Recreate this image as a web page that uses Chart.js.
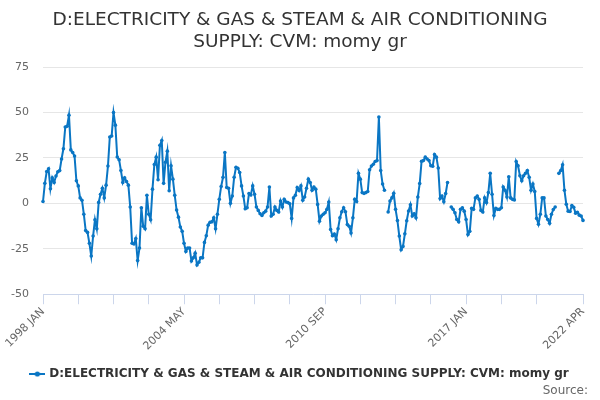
<!DOCTYPE html>
<html>
<head>
<meta charset="utf-8">
<script src="https://cdn.jsdelivr.net/npm/chart.js@4.4.1/dist/chart.umd.min.js"></script>
<style>
  html, body { margin: 0; padding: 0; background: #fff; }
  #wrap { width: 600px; height: 400px; }
</style>
</head>
<body>
<div id="wrap"><canvas id="c" width="600" height="400"></canvas></div>
<script>
const titleLines = ["D:ELECTRICITY & GAS & STEAM & AIR CONDITIONING", "SUPPLY: CVM: momy gr"];
const seriesName = "D:ELECTRICITY & GAS & STEAM & AIR CONDITIONING SUPPLY: CVM: momy gr";
const sourceText = "Source:";
const startYear = 1998;
const monthNames = ["JAN","FEB","MAR","APR","MAY","JUN","JUL","AUG","SEP","OCT","NOV","DEC"];
const yTicks = [-50, -25, 0, 25, 50, 75];

const values = [
  1, 11, 17.5, 19, 8, 14, 11.5, 15, 17.4, 18,
  24.4, 30, 42, 42.4, 48.5, 29.4, 28, 26, 12.4, 9.6,
  3, 1.7, -6, -15, -16, -22, -29, -18, -9, -14,
  0.5, 5, 8.3, 3, 10, 20.5, 36.5, 37, 50, 43,
  25.5, 24, 18, 11.5, 14, 12, 10, -2, -22, -22.4,
  -19.4, -31.5, -24.6, -2.4, -12.6, -14, 4.4, -6, -9, 7.8,
  21.3, 25.4, 13, 31.9, 34.6, 11, 22.6, 28.7, 6.9, 20.7,
  13.3, 4.4, -3.7, -7.6, -13, -15.4, -22, -26.5, -24.6, -24.6,
  -31.7, -30, -27.4, -33.9, -32.4, -30, -30, -21.5, -17.8, -12,
  -10.4, -10.2, -8, -14, -6, 2.2, 9.3, 14.3, 28, 8.7,
  8.3, 0, 4, 14.3, 19.8, 19.3, 17, 9.6, 4, -3,
  -2.4, 5.4, 4.6, 9.6, 5, -2, -3.9, -5.7, -6.7, -5.2,
  -4.3, -2, 9, -7, -6, -2, -3.9, -4.8, 1.3, -2,
  2.2, 0.7, 0.4, -0.2, -8.3, 3, 4.4, 8.7, 7, 9.6,
  1.7, 3.5, 8.3, 13.3, 11.5, 7.2, 9, 7.8, -0.6, -9.8,
  -7, -6, -5.2, -3.3, 0.7, -14.4, -17.8, -16.9, -20, -14,
  -8, -4.6, -2.4, -4.6, -11.7, -12.6, -16.3, -8, 2.2, 1,
  16.5, 13.3, 5.9, 5.5, 5.9, 6.5, 18.5, 20.5, 21.5, 23,
  23.5, 47.5, 18, 10.6, 7.2, null, -4.8, 1.3, 3, 5.5,
  -3.3, -9.5, -18, -25.5, -23.7, -16.8, -9.6, -4.2, -0.8, -7,
  -5.7, -8, 3.5, 10.9, 23.1, 23.5, 25.4, 24.4, 23.5, 20.7,
  20.4, 26.8, 25.4, 19.4, 2.6, 4, 0.9, 5.4, 11.5, null,
  -2, -3.3, -5.2, -8.9, -10.2, -3.3, -2.5, -4.3, -8.9, -17.2,
  -15.4, -2.8, -3.3, 3, 4, 2.2, -3.9, -4.8, 3, 0.4,
  5.9, 16.5, 5, -6.7, -2.8, -3.3, -3.3, -2.4, 9, 7.2,
  3.5, 14.6, 3, 2.2, 1.9, 23, 20.7, 15.2, 12.4, 15.2,
  16.5, 18, 14.3, 7.2, 10.6, 6.5, -8.3, -11.5, -6, 3,
  3, -7, -8.9, -11, -6, -3.4, -2, null, 16.5, 18,
  21.2, 7.2, -0.5, -4.3, -4.5, -1.2, -2.2, -5.4, -5, -6.5,
  -7, -9.4
];

const categories = values.map((v, i) => (startYear + Math.floor(i / 12)) + " " + monthNames[i % 12]);
const labelStep = 76;
const tickStep = 19;
const lastIdx = categories.length - 1;

const COLOR = "#0a76c4";
Chart.defaults.font.family = "'DejaVu Sans', sans-serif";

function legendIcon() {
  const c = document.createElement('canvas');
  c.width = 16; c.height = 10;
  const g = c.getContext('2d');
  g.strokeStyle = COLOR; g.lineWidth = 2;
  g.beginPath(); g.moveTo(0, 5); g.lineTo(16, 5); g.stroke();
  g.fillStyle = COLOR;
  g.beginPath(); g.arc(8, 5, 2.6, 0, Math.PI * 2); g.fill();
  return c;
}
const icon = legendIcon();

const sourcePlugin = {
  id: 'sourceText',
  afterDraw(chart) {
    const ctx = chart.ctx;
    ctx.save();
    ctx.font = "12px 'DejaVu Sans', sans-serif";
    ctx.fillStyle = '#666';
    ctx.textAlign = 'right';
    ctx.textBaseline = 'middle';
    ctx.fillText(sourceText, 588, 391);
    ctx.restore();
  }
};

new Chart(document.getElementById('c'), {
  type: 'line',
  data: {
    labels: categories,
    datasets: [{
      label: seriesName,
      data: values,
      borderColor: COLOR,
      backgroundColor: COLOR,
      borderWidth: 2,
      pointRadius: 1.8,
      pointBorderWidth: 0,
      pointBackgroundColor: COLOR,
      tension: 0,
      spanGaps: false,
      yAxisID: 'y'
    }]
  },
  options: {
    responsive: false,
    animation: false,
    layout: { padding: { left: 0, right: 0, top: 0, bottom: 10 } },
    plugins: {
      title: {
        display: true,
        text: titleLines,
        color: '#333',
        font: { size: 18.5, weight: 'normal' },
        lineHeight: 1.2,
        padding: { top: 9, bottom: 13.6 }
      },
      legend: {
        display: true,
        position: 'bottom',
        labels: {
          usePointStyle: true,
          color: '#333',
          font: { size: 12, weight: 'bold' },
          padding: 8,
          generateLabels: () => [{
            text: seriesName,
            pointStyle: icon,
            fillStyle: COLOR,
            strokeStyle: COLOR,
            lineWidth: 0,
            hidden: false,
            datasetIndex: 0,
            fontColor: '#333'
          }]
        }
      },
      tooltip: { enabled: false }
    },
    scales: {
      x: {
        type: 'category',
        offset: false,
        afterFit(scale) { scale.height += 6; },
        grid: {
          display: true,
          drawOnChartArea: false,
          drawTicks: true,
          tickLength: 10,
          color: '#ccd6eb'
        },
        border: { display: true, color: '#ccd6eb' },
        ticks: {
          autoSkip: false,
          minRotation: 45,
          maxRotation: 45,
          padding: 1,
          color: '#666',
          font: { size: 11 },
          callback: function (value, index) {
            if (index === lastIdx || index % labelStep === 0) return this.getLabelForValue(value);
            if (index % tickStep === 0 && index < lastIdx - 10) return '';
            return null;
          }
        }
      },
      y: {
        min: -50,
        max: 75,
        afterBuildTicks(scale) { scale.ticks = yTicks.map(v => ({ value: v })); },
        afterFit(scale) { scale.width = 43; },
        grid: { color: '#e6e6e6', drawTicks: false },
        border: { display: false },
        ticks: { color: '#666', font: { size: 11 }, padding: 14 }
      },
      yRight: {
        position: 'right',
        display: true,
        min: -50,
        max: 75,
        afterFit(scale) { scale.width = 17; },
        grid: { display: false, drawTicks: false },
        border: { display: false },
        ticks: { display: false }
      }
    }
  },
  plugins: [sourcePlugin]
});
</script>
</body>
</html>
